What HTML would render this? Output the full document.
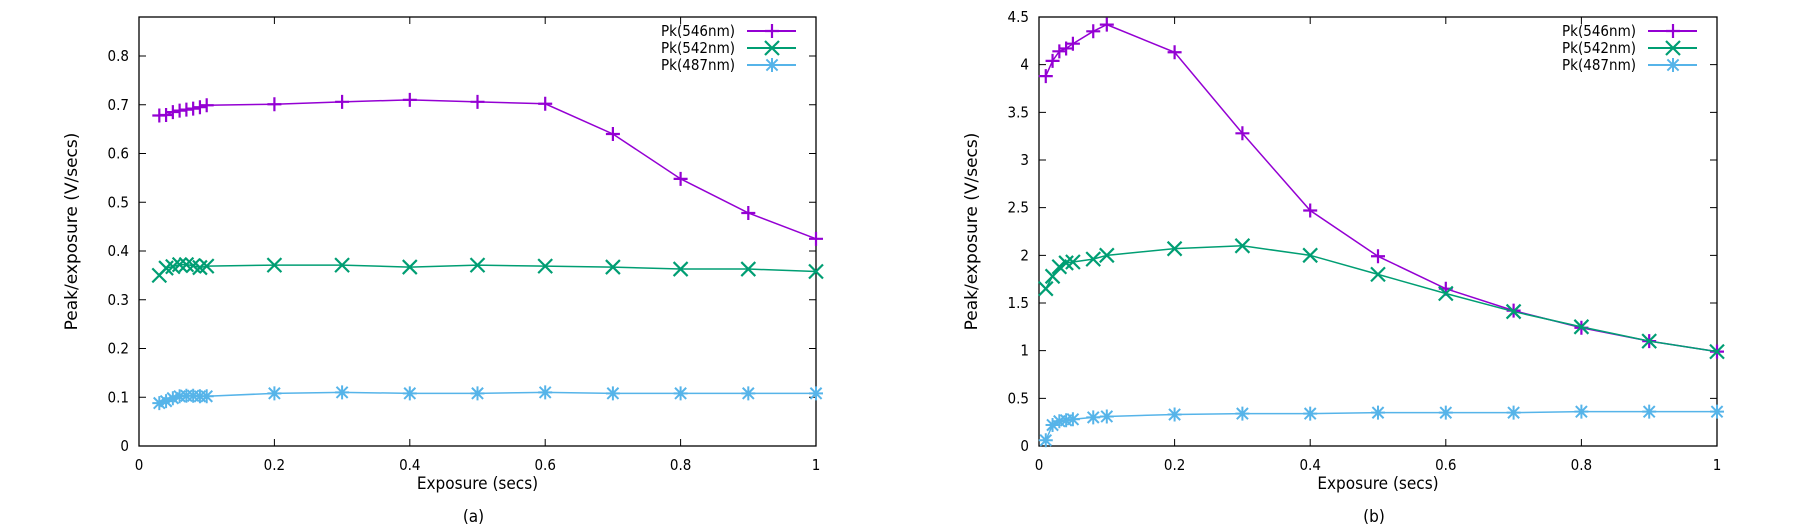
<!DOCTYPE html>
<html><head><meta charset="utf-8"><style>
html,body{margin:0;padding:0;background:#fff;}
svg{display:block;font-family:"DejaVu Sans Condensed","Liberation Sans Narrow","DejaVu Sans",sans-serif;}
</style></head><body>
<svg id="chart" width="1800" height="532" viewBox="0 0 1800 532"></svg>
<script>
const xsA = [0.03,0.04,0.05,0.06,0.07,0.08,0.09,0.1,0.2,0.3,0.4,0.5,0.6,0.7,0.8,0.9,1.0];
const a546 = [0.678,0.679,0.685,0.688,0.690,0.692,0.695,0.699,0.701,0.706,0.710,0.706,0.702,0.640,0.548,0.478,0.425];
const a542 = [0.350,0.365,0.368,0.372,0.372,0.370,0.366,0.369,0.371,0.371,0.367,0.371,0.369,0.367,0.363,0.363,0.358];
const a487 = [0.088,0.092,0.098,0.102,0.103,0.103,0.102,0.102,0.108,0.110,0.108,0.108,0.110,0.108,0.108,0.108,0.108];
const xsB = [0.01,0.02,0.03,0.04,0.05,0.08,0.1,0.2,0.3,0.4,0.5,0.6,0.7,0.8,0.9,1.0];
const b546 = [3.88,4.04,4.14,4.17,4.22,4.35,4.42,4.13,3.28,2.47,1.99,1.65,1.42,1.24,1.10,0.99];
const b542 = [1.65,1.78,1.88,1.92,1.93,1.96,2.00,2.07,2.10,2.00,1.80,1.60,1.41,1.25,1.10,0.99];
const b487 = [0.06,0.22,0.26,0.27,0.28,0.30,0.31,0.33,0.34,0.34,0.35,0.35,0.35,0.36,0.36,0.36];
const xTicks = [0,0.2,0.4,0.6,0.8,1];
const xTickLabels = ["0","0.2","0.4","0.6","0.8","1"];
const yTicksA = [0,0.1,0.2,0.3,0.4,0.5,0.6,0.7,0.8];
const yTickLabelsA = ["0","0.1","0.2","0.3","0.4","0.5","0.6","0.7","0.8"];
const yTicksB = [0,0.5,1,1.5,2,2.5,3,3.5,4,4.5];
const yTickLabelsB = ["0","0.5","1","1.5","2","2.5","3","3.5","4","4.5"];
const seriesNames = ["Pk(546nm)","Pk(542nm)","Pk(487nm)"];
const colors = ["#9400d3","#009e73","#56b4e9"];

const NS="http://www.w3.org/2000/svg";
const svg=document.getElementById('chart');
function mk(tag,attrs,parent){const e=document.createElementNS(NS,tag);for(const k in attrs)e.setAttribute(k,attrs[k]);(parent||svg).appendChild(e);return e;}

function marker(g,type,x,y,c){
  const s=7;
  if(type===0){
    mk('path',{d:`M${x-s} ${y}H${x+s}M${x} ${y-s}V${y+s}`,stroke:c,'stroke-width':2.2,fill:'none'},g);
  }else if(type===1){
    mk('path',{d:`M${x-s} ${y-s}L${x+s} ${y+s}M${x-s} ${y+s}L${x+s} ${y-s}`,stroke:c,'stroke-width':2.2,fill:'none'},g);
  }else{
    mk('path',{d:`M${x-s} ${y}H${x+s}M${x} ${y-s}V${y+s}M${x-s*0.8} ${y-s*0.8}L${x+s*0.8} ${y+s*0.8}M${x-s*0.8} ${y+s*0.8}L${x+s*0.8} ${y-s*0.8}`,stroke:c,'stroke-width':2,fill:'none'},g);
  }
}

function panel(id,L,R,T,B,ymax,yt,ytl,xs,series,caption){
  const g=mk('g',{});
  
  
  const X=v=>L+(R-L)*v;
  const Y=v=>B-(B-T)*v/ymax;
  const ax=mk('rect',{x:L,y:T,width:R-L,height:B-T,fill:'none',stroke:'#000','stroke-width':1.3},g);
  
  
  xTicks.forEach((v,i)=>{
    const x=X(v);
    mk('path',{d:`M${x} ${B}V${B-7}M${x} ${T}V${T+7}`,stroke:'#000','stroke-width':1},g);
    const t=mk('text',{x:x,y:B+24,'text-anchor':'middle','font-size':15},g);
    t.textContent=xTickLabels[i];
    
    
  });
  yt.forEach((v,i)=>{
    const y=Y(v);
    mk('path',{d:`M${L} ${y}H${L+7}M${R} ${y}H${R-7}`,stroke:'#000','stroke-width':1},g);
    const t=mk('text',{x:L-10,y:y+5,'text-anchor':'end','font-size':15},g);
    t.textContent=ytl[i];
    
    
  });
  const xl=mk('text',{x:(L+R)/2,y:489,'text-anchor':'middle','font-size':17},g);
  xl.textContent='Exposure (secs)';
  
  
  const yl=mk('text',{x:0,y:0,'text-anchor':'middle','font-size':17,'font-family':'"DejaVu Sans",sans-serif',transform:`translate(${L-62},${(T+B)/2}) rotate(-90)`},g);
  yl.textContent='Peak/exposure (V/secs)';
  
  
  const cp=mk('text',{x:(L+R)/2-4,y:522,'text-anchor':'middle','font-size':17},g);
  cp.textContent=caption;
  
  
  series.forEach((vals,si)=>{
    const sg=mk('g',{},g);
    
    
    const pts=vals.map((v,i)=>X(xs[i])+','+Y(v)).join(' ');
    mk('polyline',{points:pts,fill:'none',stroke:colors[si],'stroke-width':1.5},sg);
    vals.forEach((v,i)=>marker(sg,si,X(xs[i]),Y(v),colors[si]));
    const ly=T+14+si*17;
    const lt=mk('text',{x:R-81,y:ly+5,'text-anchor':'end','font-size':15},sg);
    lt.textContent=seriesNames[si];
    
    
    mk('line',{x1:R-69,y1:ly,x2:R-20,y2:ly,stroke:colors[si],'stroke-width':2},sg);
    marker(sg,si,R-44,ly,colors[si]);
  });
}
panel('panel-a',139,816,17,446,0.88,yTicksA,yTickLabelsA,xsA,[a546,a542,a487],'(a)');
panel('panel-b',1039,1717,17,446,4.5,yTicksB,yTickLabelsB,xsB,[b546,b542,b487],'(b)');
</script>
</body></html>
